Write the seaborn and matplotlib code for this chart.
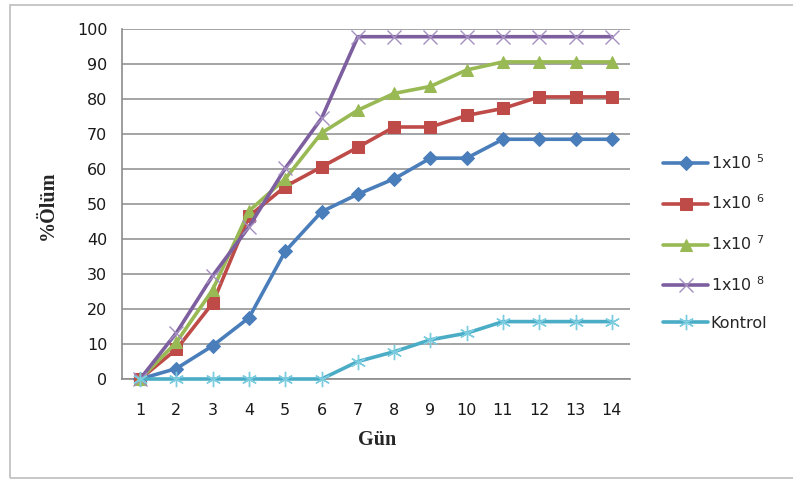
import matplotlib
matplotlib.use("Agg")
import matplotlib.pyplot as plt
import seaborn as sns
import pandas as pd
from matplotlib.patches import Rectangle
from matplotlib.ticker import FixedLocator

days = list(range(1, 15))
dose_1e5 = [0, 3, 9.5, 17.5, 36.5, 47.8, 52.8, 57.2, 63.1, 63.1, 68.5, 68.5, 68.5, 68.5]
dose_1e6 = [0, 8.5, 21.7, 46.5, 55.0, 60.6, 66.2, 72.0, 72.0, 75.3, 77.3, 80.6, 80.6, 80.6]
dose_1e7 = [0, 10.5, 25.5, 48.0, 57.2, 70.3, 76.8, 81.6, 83.6, 88.3, 90.6, 90.6, 90.6, 90.6]
dose_1e8 = [0, 13.2, 29.5, 43.5, 60.2, 74.5, 97.8, 97.8, 97.8, 97.8, 97.8, 97.8, 97.8, 97.8]
kontrol = [0, 0, 0, 0, 0, 0, 5.0, 7.8, 11.2, 13.1, 16.4, 16.4, 16.4, 16.4]

series_values = [dose_1e5, dose_1e6, dose_1e7, dose_1e8, kontrol]
series_labels = ["1x10 $^{5}$", "1x10 $^{6}$", "1x10 $^{7}$", "1x10 $^{8}$", "Kontrol"]
colors = ["#4A7EBB", "#BE4B48", "#98B954", "#7D5FA0", "#4BACC6"]
markers = ["D", "s", "^", "x", (6, 2, 0)]
marker_sizes = [7, 9, 9, 10, 11]

sns.set_style("white")
plt.rcParams["font.family"] = ["DejaVu Sans"]
plt.rcParams["mathtext.default"] = "regular"

W, H = 793, 480
fig = plt.figure(figsize=(W / 100, H / 100), dpi=100)
ax = fig.add_axes([122 / W, 1 - 379 / H, (630 - 122) / W, (379 - 29) / H])

grid_c = "#8C8C8C"
for vals, lab, c, m, ms in zip(series_values, series_labels, colors, markers, marker_sizes):
    df = pd.DataFrame({"Gün": days, "Ölüm": vals})
    mkw = dict(markeredgecolor=c, markerfacecolor=c)
    if m == "x":
        mkw = dict(markeredgecolor="#A48FC0", markeredgewidth=1.0)
    elif isinstance(m, tuple):
        mkw = dict(markeredgecolor="#7CCCE0", markeredgewidth=1.0)
    sns.lineplot(data=df, x="Gün", y="Ölüm", ax=ax, color=c, linewidth=2.6,
                 marker=m, markersize=ms, label=lab, clip_on=False, zorder=3, **mkw)

ax.set_xlim(0.5, 14.5)
ax.set_ylim(0, 100)
ax.xaxis.set_major_locator(FixedLocator(days))
ax.set_xticklabels([str(d) for d in days])
ax.xaxis.set_minor_locator(FixedLocator([d + 0.5 for d in range(0, 15)]))
ax.set_yticks(range(0, 101, 10))
ax.tick_params(axis="x", which="major", length=0, pad=17, labelsize=11.5, labelcolor="#1a1a1a")
ax.tick_params(axis="x", which="minor", length=7, width=1.2, color=grid_c, direction="out")
ax.tick_params(axis="y", which="major", length=7, width=1.2, color=grid_c, direction="out",
               pad=3.5, labelsize=11.5, labelcolor="#1a1a1a")
ax.yaxis.grid(True, color=grid_c, linewidth=1.1)
ax.set_axisbelow(True)
for s in ["top", "right"]:
    ax.spines[s].set_visible(False)
for s in ["left", "bottom"]:
    ax.spines[s].set_color(grid_c)
    ax.spines[s].set_linewidth(1.2)

ax.set_xlabel("")
ax.set_ylabel("")
fig.text(377 / W, 1 - 440 / H, "Gün", ha="center", va="center",
         family="Liberation Serif", fontweight="bold", fontsize=14.5)
fig.text(48 / W, 1 - 205 / H, "%Ölüm", ha="center", va="center", rotation=90,
         family="Liberation Serif", fontweight="bold", fontsize=14.5)

handles, labels = ax.get_legend_handles_labels()
ax.get_legend().remove()
fig.legend(handles, labels, loc="center left", bbox_to_anchor=(657 / W, 1 - 242 / H),
           frameon=False, fontsize=11.5, handlelength=2.8, handletextpad=0.15,
           labelspacing=1.38, borderaxespad=0)

fig.add_artist(Rectangle((10 / W, 2 / H), 1.0, 1 - 7 / H, transform=fig.transFigure,
                         fill=False, edgecolor="#BDBDBD", linewidth=1.2))

fig.savefig("out.png", dpi=100)
